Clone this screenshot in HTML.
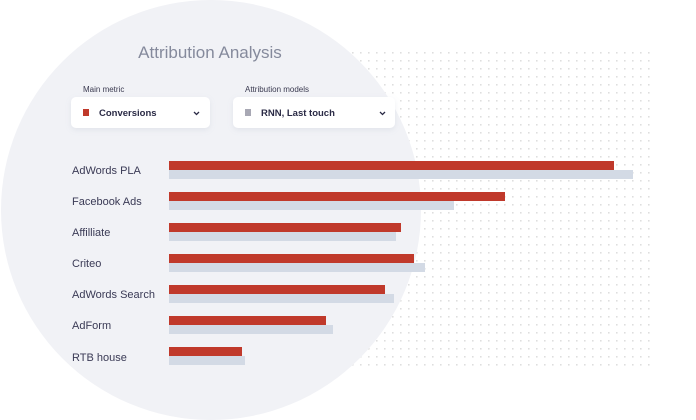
<!DOCTYPE html>
<html><head><style>
html,body{margin:0;padding:0;background:#fff;}
svg{display:block;}
text{font-family:"Liberation Sans",sans-serif;}
</style></head><body>
<svg width="696" height="420" viewBox="0 0 696 420" xmlns="http://www.w3.org/2000/svg">
<defs>
<pattern id="dots" x="352" y="52" width="8" height="8" patternUnits="userSpaceOnUse">
<rect x="0" y="0" width="1.6" height="1.6" fill="#dedede"/>
</pattern>
<filter id="sh" x="-20%" y="-40%" width="140%" height="180%">
<feDropShadow dx="0" dy="2" stdDeviation="3" flood-color="#8890a8" flood-opacity="0.15"/>
</filter>
</defs>
<rect x="352" y="52" width="298" height="315" fill="url(#dots)"/>
<circle cx="211" cy="210" r="210" fill="#f1f2f6"/>
<text x="210" y="58" text-anchor="middle" font-size="17" fill="#858a9c">Attribution Analysis</text>
<text x="83" y="92" font-size="8" fill="#3a3a50">Main metric</text>
<text x="245" y="92" font-size="8" fill="#3a3a50">Attribution models</text>
<rect x="71" y="97" width="139" height="31" rx="5" fill="#fff" filter="url(#sh)"/>
<rect x="233" y="97" width="162" height="31" rx="5" fill="#fff" filter="url(#sh)"/>
<rect x="83" y="109" width="6" height="7" fill="#c0392b"/>
<rect x="245" y="109" width="6" height="7" fill="#a8a8b4"/>
<text x="99" y="116" font-size="9.5" font-weight="bold" fill="#2a2a45">Conversions</text>
<text x="261" y="116" font-size="9.5" font-weight="bold" fill="#2a2a45">RNN, Last touch</text>
<path d="M194 112 L196.5 114.5 L199 112" stroke="#2a2a45" stroke-width="1.3" fill="none"/>
<path d="M380 112 L382.5 114.5 L385 112" stroke="#2a2a45" stroke-width="1.3" fill="none"/>
<g font-size="11" fill="#3a3a55">
<text x="72" y="174">AdWords PLA</text>
<text x="72" y="205">Facebook Ads</text>
<text x="72" y="236">Affilliate</text>
<text x="72" y="267">Criteo</text>
<text x="72" y="298">AdWords Search</text>
<text x="72" y="329">AdForm</text>
<text x="72" y="361">RTB house</text>
</g>
<g fill="#d3dae5">
<rect x="169" y="170" width="464" height="9"/>
<rect x="169" y="201" width="285" height="9"/>
<rect x="169" y="232" width="227" height="9"/>
<rect x="169" y="263" width="256" height="9"/>
<rect x="169" y="294" width="225" height="9"/>
<rect x="169" y="325" width="164" height="9"/>
<rect x="169" y="356" width="76" height="9"/>
</g>
<g fill="#c0392b">
<rect x="169" y="161" width="445" height="9"/>
<rect x="169" y="192" width="336" height="9"/>
<rect x="169" y="223" width="232" height="9"/>
<rect x="169" y="254" width="245" height="9"/>
<rect x="169" y="285" width="216" height="9"/>
<rect x="169" y="316" width="157" height="9"/>
<rect x="169" y="347" width="73" height="9"/>
</g>
</svg>
</body></html>
